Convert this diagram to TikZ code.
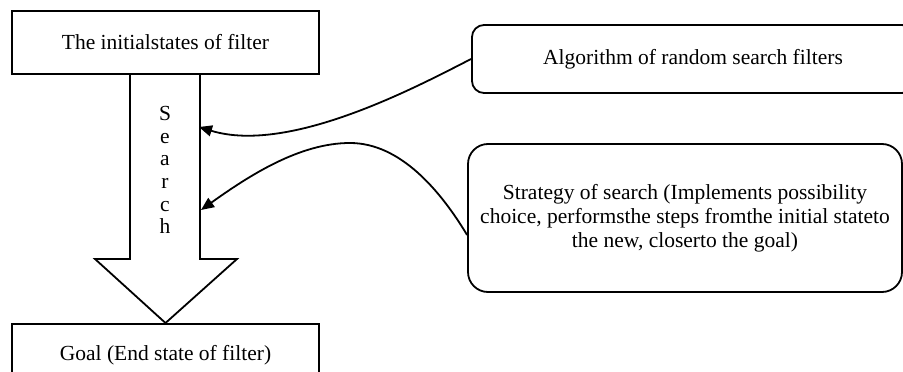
\documentclass[tikz,border=0pt]{standalone}
\usepackage{fontspec}
\setmainfont{Liberation Serif}
\usetikzlibrary{arrows.meta}
\begin{document}
\begin{tikzpicture}[x=1pt,y=-1pt,
  every node/.style={font=\fontsize{21.5}{24}\selectfont},
  statebox/.style={draw, line width=1.8pt, minimum width=307pt,
    minimum height=63pt, inner sep=0pt},
  callout/.style={draw, line width=1.8pt, align=center, inner sep=0pt},
  bigarrow/.style={draw, line width=1.8pt, fill=white, line join=miter},
  link/.style={line width=1.8pt, -{Triangle[length=13pt,width=11pt]}}]
  % canvas
  \fill[white] (0,0) rectangle (903,372);
  \useasboundingbox (0,0) rectangle (903,372);
  \clip (0,0) rectangle (903,372);

  % wide arrow from the initial state down to the goal
  \coordinate (sl) at (130,74);
  \coordinate (sr) at (200,74);
  \coordinate (tip) at (165.5,323);
  \draw[bigarrow] (sl) -- (130,259) -- (95,259) -- (tip)
    -- (237,259) -- (200,259) -- (sr);

  % states
  \node[statebox] (init) at (165.5,42.5) {The initialstates of filter};
  \node[statebox] (goal) at (165.5,355.5) {Goal (End state of filter)};

  % label inside the shaft
  \node[align=center, inner sep=0pt,
    font=\fontsize{21.5}{22.6}\selectfont] (search) at (165,170)
    {S\\e\\a\\r\\c\\h};

  % side descriptions
  \node[callout, rounded corners=12pt, minimum width=442pt,
    minimum height=68pt] (alg) at (693,59)
    {Algorithm of random search filters};
  \node[callout, rounded corners=20pt, minimum width=434pt,
    minimum height=148pt] (strat) at (685,218)
    {Strategy of search (Implements possibility\\
     choice, performsthe steps fromthe initial stateto\\
     the new, closerto the goal)};

  % connectors into the shaft
  \coordinate (t1) at (199,127);
  \coordinate (t2) at (201,210);
  \coordinate (s2) at ([yshift=-17pt]strat.west);
  \draw[link] (alg.west) .. controls (420,85) and (290,155) .. (t1);
  \draw[link] (s2) .. controls (440,190) and (400,143) .. (350,143)
    .. controls (300,143) and (250,175) .. (t2);
\end{tikzpicture}
\end{document}
